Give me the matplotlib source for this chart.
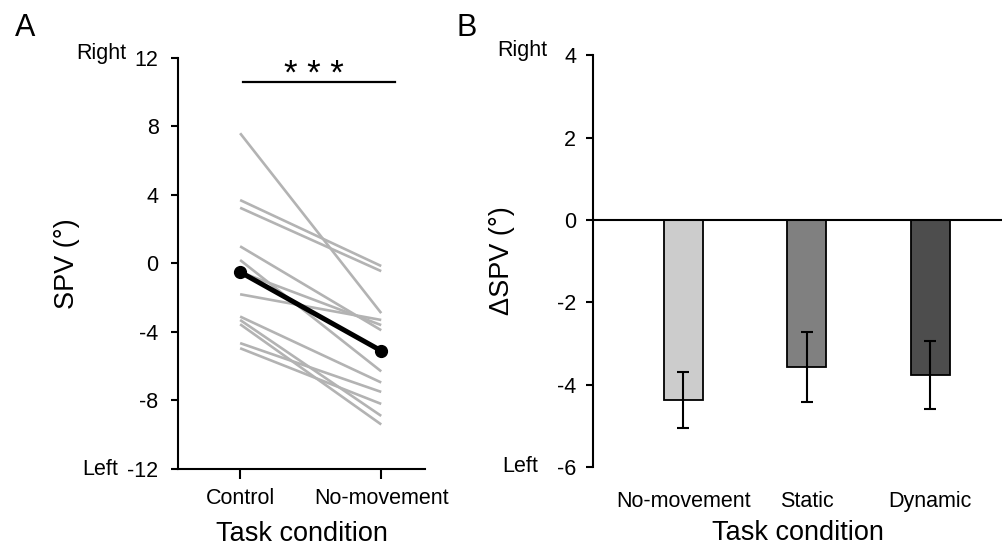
import numpy as np
import matplotlib
matplotlib.use("Agg")
import matplotlib.pyplot as plt

plt.rcParams['font.family'] = ['Liberation Sans', 'DejaVu Sans']
plt.rcParams['axes.unicode_minus'] = False

# Panel A: individual subjects, SPV (deg) in each condition
conditions_a = ["Control", "No-movement"]
spv_control = [7.6, 3.7, 3.25, 1.0, 0.2, -1.8, -3.1, -3.3, -3.55, -4.65, -4.95, -0.5]
spv_nomove = [-2.9, -0.15, -0.45, -3.9, -6.3, -3.3, -6.95, -8.9, -9.4, -7.5, -8.2, -3.6]
mean_spv = [-0.5, -5.1]

# Panel B: change in SPV per condition
conditions_b = ["No-movement", "Static", "Dynamic"]
delta_spv = [-4.37, -3.57, -3.77]
delta_err = [0.68, 0.85, 0.83]
bar_colors = ["#cccccc", "#808080", "#4d4d4d"]

fig = plt.figure(figsize=(10.03, 5.46), dpi=100)

# ---------- Panel A ----------
ax1 = fig.add_axes([0.1775, 0.141, 0.2462, 0.753])
xa = np.arange(len(conditions_a))
for c, n in zip(spv_control, spv_nomove):
    ax1.plot(xa, [c, n], color="#b3b3b3", lw=1.9, solid_capstyle="butt", zorder=2)
ax1.plot(xa, mean_spv, color="black", lw=3.6, marker="o", ms=8.5, zorder=3)

ax1.set_xlim(-0.44, 1.31)
ax1.set_ylim(-12, 12)
ax1.set_yticks([12, 8, 4, 0, -4, -8, -12])
ax1.set_xticks(xa)
ax1.set_xticklabels(conditions_a)
ax1.spines["top"].set_visible(False)
ax1.spines["right"].set_visible(False)
for s in ["left", "bottom"]:
    ax1.spines[s].set_linewidth(1.5)
ax1.tick_params(axis="y", direction="out", length=5, width=1.5, labelsize=15.5, pad=9)
ax1.tick_params(axis="x", direction="out", length=7, width=1.5, labelsize=15.5, pad=7)
ax1.set_ylabel("SPV (°)", fontsize=19.5, labelpad=34)
ax1.set_xlabel("Task condition", fontsize=19.5, labelpad=8)

ax1.annotate("Right", xy=(0, 12), xycoords=("axes fraction", "data"),
             xytext=(-37, 3), textcoords="offset points", ha="right", va="center", fontsize=15.5)
ax1.annotate("Left", xy=(0, -12), xycoords=("axes fraction", "data"),
             xytext=(-43, 0), textcoords="offset points", ha="right", va="center", fontsize=15.5)

# significance bar
ax1.plot([0.02, 1.1], [10.6, 10.6], color="black", lw=1.6, clip_on=False)
ax1.text(0.52, 10.45, "* * *", ha="center", va="baseline", fontsize=25)

fig.text(0.015, 0.948, "A", fontsize=22, ha="left", va="center")

# ---------- Panel B ----------
ax2 = fig.add_axes([0.591, 0.1447, 0.409, 0.7543])
xb = np.arange(len(conditions_b))
ax2.bar(xb, delta_spv, width=0.316, color=bar_colors, edgecolor="black", linewidth=1.3, zorder=2)
ax2.errorbar(xb, delta_spv, yerr=delta_err, fmt="none", ecolor="black",
             elinewidth=1.5, capsize=4, capthick=1.5, zorder=3)
ax2.axhline(0, color="black", lw=1.5, zorder=4)

ax2.set_xlim(-0.735, 2.59)
ax2.set_ylim(-6, 4)
ax2.set_yticks([4, 2, 0, -2, -4, -6])
ax2.set_xticks(xb)
ax2.set_xticklabels(conditions_b)
for s in ["top", "right", "bottom"]:
    ax2.spines[s].set_visible(False)
ax2.spines["left"].set_linewidth(1.5)
ax2.tick_params(axis="y", direction="out", length=5, width=1.5, labelsize=15.5, pad=7)
ax2.tick_params(axis="x", length=0, labelsize=15.5, pad=17)
ax2.set_ylabel("ΔSPV (°)", fontsize=19.5, labelpad=30)
ax2.set_xlabel("Task condition", fontsize=19.5, labelpad=6)

ax2.annotate("Right", xy=(0, 4), xycoords=("axes fraction", "data"),
             xytext=(-33, 3), textcoords="offset points", ha="right", va="center", fontsize=15.5)
ax2.annotate("Left", xy=(0, -6), xycoords=("axes fraction", "data"),
             xytext=(-39, 0), textcoords="offset points", ha="right", va="center", fontsize=15.5)

fig.text(0.455, 0.948, "B", fontsize=22, ha="left", va="center")

fig.savefig("out.png", dpi=100)
